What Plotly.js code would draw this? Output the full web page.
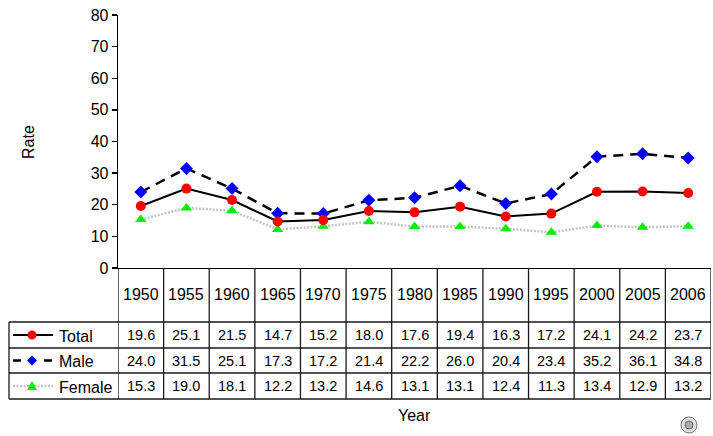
<!DOCTYPE html>
<html><head><meta charset="utf-8">
<script src="https://cdn.plot.ly/plotly-3.0.1.min.js"></script>
<style>html,body{margin:0;padding:0;background:#fff;}#chart{width:713px;height:436px;}</style>
</head><body><div id="chart"></div>
<script>
const years = ['1950','1955','1960','1965','1970','1975','1980','1985','1990','1995','2000','2005','2006'];
const total = [19.6,25.1,21.5,14.7,15.2,18.0,17.6,19.4,16.3,17.2,24.1,24.2,23.7];
const male = [24.0,31.5,25.1,17.3,17.2,21.4,22.2,26.0,20.4,23.4,35.2,36.1,34.8];
const female = [15.3,19.0,18.1,12.2,13.2,14.6,13.1,13.1,12.4,11.3,13.4,12.9,13.2];
const seriesNames = ['Total','Male','Female'];
const yTicks = [0,10,20,30,40,50,60,70,80];

const FONT = 'Liberation Sans, Arial, Helvetica, sans-serif';
const W = 713, H = 436, L = 118, R = 711, T = 15, B = 268;
const px = v => (v - L) / (R - L);
const py = v => (B - v) / (B - T);

const traces = [
  {x: years, y: female, name: 'Female', mode: 'lines+markers', cliponaxis: false,
   line: {color: '#c4c4c4', width: 2.5, dash: '2px,1.5px'},
   marker: {symbol: 'triangle-up', size: 10, color: '#00ee00'}},
  {x: years, y: male, name: 'Male', mode: 'lines+markers', cliponaxis: false,
   line: {color: '#000', width: 2.5, dash: '10px,7px'},
   marker: {symbol: 'diamond', size: 10, color: '#0000ff'}},
  {x: years, y: total, name: 'Total', mode: 'lines+markers', cliponaxis: false,
   line: {color: '#000', width: 2},
   marker: {symbol: 'circle', size: 10, color: '#ff0000'}}
];

const shapes = [];
const annotations = [];
const lineC = '#1a1a1a', lw = 1.3;
const rowY = [268, 322, 348, 373, 399];
for (let i = 0; i <= years.length; i++) {
  shapes.push({type: 'line', xref: 'x', yref: 'paper', x0: i - 0.5, x1: i - 0.5,
    y0: py(268), y1: py(399), line: {color: lineC, width: lw}});
}
shapes.push({type: 'line', xref: 'paper', yref: 'paper', x0: px(9), x1: px(9),
  y0: py(322), y1: py(399), line: {color: lineC, width: lw}});
for (let k = 1; k < rowY.length; k++) {
  shapes.push({type: 'line', xref: 'paper', yref: 'paper', x0: px(9), x1: 1,
    y0: py(rowY[k]), y1: py(rowY[k]), line: {color: lineC, width: lw}});
}
years.forEach((yr, i) => {
  annotations.push({x: i, xref: 'x', y: py(294), yref: 'paper', text: yr, showarrow: false,
    font: {family: FONT, size: 16, color: '#000'}, xanchor: 'center', yanchor: 'middle'});
});
const rows = [total, male, female];
const rowCenters = [335, 360.5, 386];
rows.forEach((arr, r) => {
  arr.forEach((v, i) => {
    annotations.push({x: i, xref: 'x', y: py(rowCenters[r]), yref: 'paper',
      text: v.toFixed(1), showarrow: false,
      font: {family: FONT, size: 14.5, color: '#000'}, xanchor: 'center', yanchor: 'middle'});
  });
  annotations.push({x: px(57), xref: 'paper', y: py(rowCenters[r] + 1), yref: 'paper',
    text: seriesNames[r], showarrow: false,
    font: {family: FONT, size: 16, color: '#000'}, xanchor: 'left', yanchor: 'middle'});
});
const yc = rowCenters.map(v => py(v));
shapes.push({type: 'line', xref: 'paper', yref: 'paper', x0: px(13), x1: px(53), y0: yc[0], y1: yc[0],
  line: {color: '#000', width: 2}});
shapes.push({type: 'circle', xref: 'paper', yref: 'paper', xsizemode: 'pixel', ysizemode: 'pixel',
  xanchor: px(32), yanchor: yc[0], x0: -4.5, x1: 4.5, y0: -4.5, y1: 4.5,
  fillcolor: '#ff0000', line: {width: 0}});
shapes.push({type: 'line', xref: 'paper', yref: 'paper', x0: px(13), x1: px(21), y0: yc[1], y1: yc[1],
  line: {color: '#000', width: 2.5}});
shapes.push({type: 'line', xref: 'paper', yref: 'paper', x0: px(44), x1: px(52), y0: yc[1], y1: yc[1],
  line: {color: '#000', width: 2.5}});
shapes.push({type: 'path', xref: 'paper', yref: 'paper', xsizemode: 'pixel', ysizemode: 'pixel',
  xanchor: px(32), yanchor: yc[1], path: 'M0,5 L5,0 L0,-5 L-5,0 Z',
  fillcolor: '#0000ff', line: {width: 0}});
shapes.push({type: 'line', xref: 'paper', yref: 'paper', x0: px(13), x1: px(53), y0: yc[2], y1: yc[2],
  line: {color: '#c4c4c4', width: 2.5, dash: '2px,1.5px'}});
shapes.push({type: 'path', xref: 'paper', yref: 'paper', xsizemode: 'pixel', ysizemode: 'pixel',
  xanchor: px(32), yanchor: yc[2], path: 'M-5,-4 L5,-4 L0,5 Z',
  fillcolor: '#00ee00', line: {width: 0}});
shapes.push({type: 'circle', xref: 'paper', yref: 'paper', xsizemode: 'pixel', ysizemode: 'pixel',
  xanchor: px(689), yanchor: py(425), x0: -8, x1: 8, y0: -8, y1: 8,
  fillcolor: '#e0e0e0', line: {color: '#777', width: 1}});
shapes.push({type: 'circle', xref: 'paper', yref: 'paper', xsizemode: 'pixel', ysizemode: 'pixel',
  xanchor: px(689), yanchor: py(425), x0: -4, x1: 4, y0: -4, y1: 4,
  fillcolor: '#aaa', line: {color: '#666', width: 1}});

annotations.push({x: 0.5, xref: 'paper', y: py(415), yref: 'paper', text: 'Year', showarrow: false,
  font: {family: FONT, size: 16, color: '#000'}, xanchor: 'center', yanchor: 'middle'});
annotations.push({x: px(28), xref: 'paper', y: py(142), yref: 'paper', text: 'Rate', showarrow: false,
  textangle: -90, font: {family: FONT, size: 16, color: '#000'}, xanchor: 'center', yanchor: 'middle'});

const layout = {
  width: W, height: H,
  margin: {l: L, r: W - R, t: T, b: H - B, pad: 0},
  paper_bgcolor: '#fff', plot_bgcolor: '#fff',
  showlegend: false,
  font: {family: FONT, color: '#000'},
  xaxis: {type: 'category', range: [-0.5, years.length - 0.5], showticklabels: false,
    showgrid: false, zeroline: false, showline: true, linecolor: '#000', linewidth: 1.3,
    ticks: '', fixedrange: true},
  yaxis: {range: [0, 80], tickvals: yTicks, ticktext: yTicks.map(String), showgrid: false, zeroline: false,
    showline: true, linecolor: '#000', linewidth: 1.3, ticks: 'outside', ticklen: 5,
    tickcolor: '#000', tickwidth: 1.3, tickfont: {family: FONT, size: 16, color: '#000'}},
  shapes: shapes,
  annotations: annotations
};
Plotly.newPlot('chart', traces, layout, {displayModeBar: false, staticPlot: true});
</script></body></html>
